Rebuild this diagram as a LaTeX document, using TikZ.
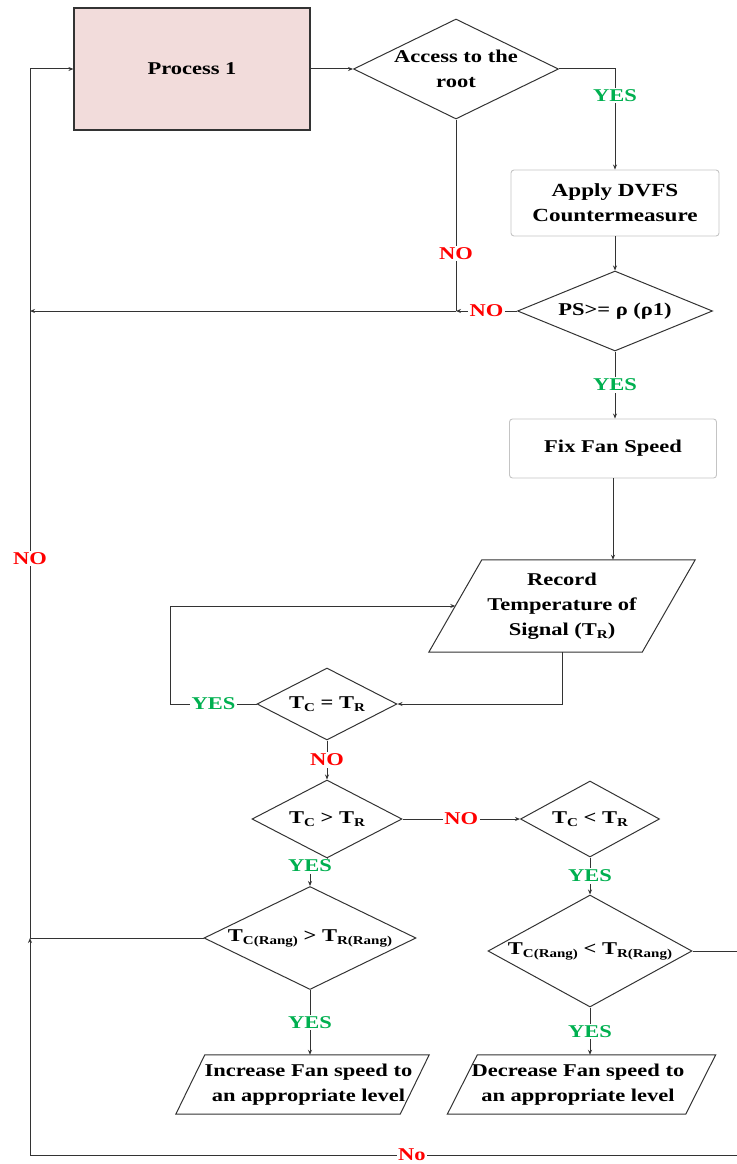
\documentclass[tikz,border=0pt]{standalone}
\usepackage{fontspec}
\setmainfont{Liberation Serif}[FakeStretch=1.25]
\usetikzlibrary{shapes.geometric,arrows.meta}

\definecolor{lineGray}{HTML}{333333}
\definecolor{boxGray}{HTML}{C4C4C4}
\definecolor{procPink}{HTML}{F2DCDB}
\definecolor{yesGreen}{HTML}{00B050}
\definecolor{noRed}{HTML}{FF0000}

\newcommand\mainfnt{\bfseries\fontsize{18}{25}\selectfont}
\newcommand\lowsub[1]{\raisebox{-3pt}{\fontsize{12}{12}\selectfont #1}}
% slanted frame of an input/output block around node #1:
% top edge moved right and bottom edge moved left by #2, whole frame moved by #3
\newcommand\slantframe[3]{%
  \draw[flow] ([xshift=#3+#2]#1.north west) -- ([xshift=#3+#2]#1.north east)
    -- ([xshift=#3-#2]#1.south east) -- ([xshift=#3-#2]#1.south west) -- cycle;}

\tikzset{
  flow/.style={draw=lineGray, line width=1pt},
  arr/.style={flow, -{Stealth[length=5pt,width=4pt]}},
  lab/.style={fill=white, inner sep=1.5pt, font=\mainfnt},
  yes/.style={lab, text=yesGreen},
  no/.style={lab, text=noRed},
  decision/.style={diamond, draw=lineGray, line width=1pt, inner sep=0pt, align=center},
  procbox/.style={rectangle, rounded corners=3pt, draw=boxGray, line width=0.9pt, align=center},
  iobox/.style={rectangle, inner sep=0pt, align=center},
}

\begin{document}
\begin{tikzpicture}[x=1pt, y=-1pt, font=\mainfnt]
\useasboundingbox (0,0) rectangle (736,1164);

% blocks
\node[rectangle, draw=lineGray, line width=1.2pt, fill=procPink,
      minimum width=236pt, minimum height=122pt] (p1) at (192,69) {Process 1};
\node[decision, minimum width=205pt, minimum height=100pt, aspect=2.05, inner sep=-2pt]
      (acc) at (456,69) {Access to the\\root};
\node[procbox, minimum width=208pt, minimum height=66pt,
      font=\bfseries\fontsize{18.5}{25}\selectfont] (dvfs) at (615,203)
      {Apply DVFS\\Countermeasure};
\node[decision, minimum width=195pt, minimum height=80pt, aspect=2.44]
      (ps) at (615,311) {PS>= ρ (ρ1)};
\node[procbox, minimum width=207pt, minimum height=59pt] (fix) at (613,448.5)
      {Fix Fan Speed};
\node[iobox, minimum width=213pt, minimum height=92pt] (rec) at (562,606)
      {Record\\Temperature of\\Signal (T\lowsub{R})};
\slantframe{rec}{26.5pt}{0pt}

\node[decision, minimum width=140pt, minimum height=72pt, aspect=1.94]
      (eq) at (327,704) {T\lowsub{C} = T\lowsub{R}};
\node[decision, minimum width=150pt, minimum height=78pt, aspect=1.92]
      (gt) at (327,819) {T\lowsub{C} > T\lowsub{R}};
\node[decision, minimum width=139pt, minimum height=76pt, aspect=1.83]
      (lt) at (590,819) {T\lowsub{C} < T\lowsub{R}};
\node[decision, minimum width=212pt, minimum height=103pt, aspect=2.05]
      (rgt) at (310,938) {T\lowsub{C(Rang)} > T\lowsub{R(Rang)}};
\node[decision, minimum width=204pt, minimum height=112pt, aspect=1.82]
      (rlt) at (590,951) {T\lowsub{C(Rang)} < T\lowsub{R(Rang)}};

\node[iobox, minimum width=224pt, minimum height=59pt] (inc) at (308.5,1084.5)
      {Increase Fan speed to\\an appropriate level};
\slantframe{inc}{14.5pt}{-6pt}
\node[iobox, minimum width=238pt, minimum height=59pt] (dec) at (578,1084.5)
      {Decrease Fan speed to\\an appropriate level};
\slantframe{dec}{15pt}{3.5pt}

% junction points of the return lines
\coordinate (jTop) at (30,69);
\coordinate (jN)   at (30,311);
\coordinate (jM)   at (456,311);
\coordinate (jL)   at (30,938);
\coordinate (jR)   at (744,1155);
\coordinate (jB)   at (30,1155);
\node[yes] (yesGT) at (310,866) {YES};

% connectors
\draw[arr] (p1.east) -- (acc.west);
\draw[arr] (acc.east) -| node[yes, pos=0.63]{YES} (dvfs.north);
\draw[arr] (dvfs.south) -- (ps.north);
\draw[arr] (ps.south) -- node[yes]{YES} (ps.south |- fix.north);
\draw[arr] (fix.south) -- (fix.south |- rec.north);
\draw[arr] (rec.south) |- (eq.east);
\draw[arr] (eq.west) -- node[yes]{YES} ++(-86,0) |- (rec.west);
\draw[arr] (eq.south) -- node[no]{NO} (gt.north);
\draw[arr] (gt.east) -- node[no]{NO} (lt.west);
\draw[flow] (gt.south) -- (yesGT);
\draw[arr] (yesGT) -- (rgt.north);
\draw[arr] (lt.south) -- node[yes]{YES} (rlt.north);
\draw[arr] (rgt.south) -- node[yes]{YES} (rgt.south |- inc.north);
\draw[arr] (rlt.south) -- node[yes]{YES} (rlt.south |- dec.north);

\draw[flow] (acc.south) -- node[no, pos=0.7]{NO} (jM);
\draw[arr] (ps.west) -- node[no]{NO} (jM);
\draw[arr] (jM) -- (jN);

\draw[arr] (rlt.east) -| (jR) -- node[no, pos=0.465]{No} (jB) -- (jL);
\draw[flow] (rgt.west) -- (jL);
\draw[flow] (jL) -- node[no, pos=0.437]{NO} (jTop);
\draw[arr] (jTop) -- (p1.west);
\end{tikzpicture}
\end{document}
